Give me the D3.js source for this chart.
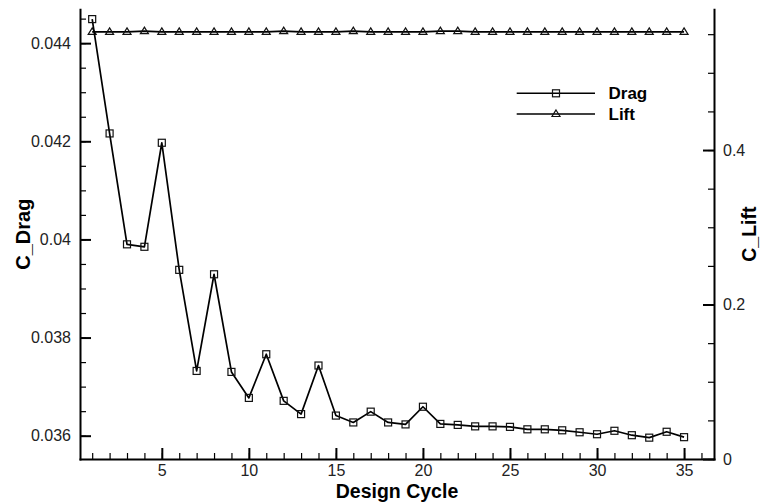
<!DOCTYPE html>
<html>
<head>
<meta charset="utf-8">
<script src="https://cdn.jsdelivr.net/npm/d3@7"></script>
<style>
  html, body { margin: 0; padding: 0; background: #fff; }
  svg { display: block; font-family: "Liberation Sans", Arial, Helvetica, sans-serif; }
  .axis .domain { stroke: #000; stroke-width: 2; stroke-linecap: square; }
  .axis .tick line { stroke: #000; stroke-width: 2; }
  .minor .tick line { stroke: #000; stroke-width: 1.2; }
  .minor .domain { display: none; }
  .axis text { font-size: 16px; fill: #222; }
</style>
</head>
<body>
<svg id="chart" width="761" height="502"></svg>
<script>
// ---------------------------------------------------------------------------
// Data
// ---------------------------------------------------------------------------

const cycles = d3.range(1, 36);

const dragValues = [
  0.04449, 0.04216, 0.03990, 0.03985, 0.04197, 0.03938, 0.03732, 0.03929,
  0.03730, 0.03677, 0.03766, 0.03671, 0.03644, 0.03743, 0.03641, 0.03627,
  0.03649, 0.03627, 0.03623, 0.03659, 0.03624, 0.03622, 0.03619, 0.03619,
  0.03618, 0.03613, 0.03613, 0.03611, 0.03607, 0.03603, 0.03610, 0.03601,
  0.03596, 0.03608, 0.03597
];

const liftValues = [
  0.553, 0.553, 0.553, 0.554, 0.553, 0.553, 0.553, 0.553, 0.553, 0.553,
  0.553, 0.554, 0.553, 0.553, 0.553, 0.554, 0.553, 0.553, 0.553, 0.553,
  0.554, 0.554, 0.553, 0.553, 0.553, 0.553, 0.553, 0.553, 0.553, 0.553,
  0.553, 0.553, 0.553, 0.553, 0.553
];

const xMajorTicks = [5, 10, 15, 20, 25, 30, 35];
const dragMajorTicks = [0.036, 0.038, 0.04, 0.042, 0.044];
const dragTickLabels = ["0.036", "0.038", "0.04", "0.042", "0.044"];
const liftMajorTicks = [0, 0.2, 0.4];
const liftTickLabels = ["0", "0.2", "0.4"];

const legendItems = ["Drag", "Lift"];

// ---------------------------------------------------------------------------
// Layout
// ---------------------------------------------------------------------------

const LEFT = 80, RIGHT = 714, TOP = 9.3, BOTTOM = 459;

const svg = d3.select("#chart");

const x = d3.scaleLinear().domain([0.3, 36.72]).range([LEFT, RIGHT]);
const yDrag = d3.scaleLinear().domain([0.035525, 0.04469]).range([BOTTOM, TOP]);
const yLift = d3.scaleLinear().domain([0, 0.5822]).range([BOTTOM, TOP]);

// minor ticks
const xMinor = d3.range(1, 37);
const dragMinor = d3.range(0, 19).map((i) => 0.0355 + i * 0.0005);
const liftMinor = d3.range(0, 12).map((i) => i * 0.05);

svg.append("g").attr("class", "axis minor")
  .attr("transform", `translate(0,${BOTTOM})`)
  .call(d3.axisBottom(x).tickValues(xMinor).tickSize(-6).tickSizeOuter(0).tickFormat(""));
svg.append("g").attr("class", "axis minor")
  .attr("transform", `translate(${LEFT},0)`)
  .call(d3.axisLeft(yDrag).tickValues(dragMinor.filter((v) => v >= yDrag.domain()[0])).tickSize(-6).tickSizeOuter(0).tickFormat(""));
svg.append("g").attr("class", "axis minor")
  .attr("transform", `translate(${RIGHT},0)`)
  .call(d3.axisRight(yLift).tickValues(liftMinor).tickSize(-6).tickSizeOuter(0).tickFormat(""));

// major axes
svg.append("g").attr("class", "axis")
  .attr("transform", `translate(0,${BOTTOM})`)
  .call(d3.axisBottom(x).tickValues(xMajorTicks).tickSize(-11).tickSizeOuter(0).tickPadding(6)
    .tickFormat(d3.format("d")));
svg.append("g").attr("class", "axis")
  .attr("transform", `translate(${LEFT},0)`)
  .call(d3.axisLeft(yDrag).tickValues(dragMajorTicks).tickSize(-11).tickSizeOuter(0).tickPadding(9)
    .tickFormat((d, i) => dragTickLabels[i]));
svg.append("g").attr("class", "axis")
  .attr("transform", `translate(${RIGHT},0)`)
  .call(d3.axisRight(yLift).tickValues(liftMajorTicks).tickSize(-11).tickSizeOuter(0).tickPadding(9)
    .tickFormat((d, i) => liftTickLabels[i]));

// axis titles
svg.append("text")
  .attr("transform", `translate(29.5,${(TOP + BOTTOM) / 2}) rotate(-90)`)
  .attr("text-anchor", "middle")
  .attr("font-size", 20).attr("font-weight", "bold")
  .text("C_Drag");

svg.append("text")
  .attr("transform", `translate(756,${(TOP + BOTTOM) / 2}) rotate(-90)`)
  .attr("text-anchor", "middle")
  .attr("font-size", 19.5).attr("font-weight", "bold")
  .text("C_Lift");

svg.append("text")
  .attr("x", (LEFT + RIGHT) / 2).attr("y", 498)
  .attr("text-anchor", "middle")
  .attr("font-size", 19.5).attr("font-weight", "bold")
  .text("Design Cycle");

// ---------------------------------------------------------------------------
// Series
// ---------------------------------------------------------------------------

const SQ = 7;
const triPath = "M0,-4L4,2.5L-4,2.5Z";

function square(g, cx, cy) {
  g.append("rect")
    .attr("x", cx - SQ / 2).attr("y", cy - SQ / 2)
    .attr("width", SQ).attr("height", SQ)
    .attr("fill", "none").attr("stroke", "#111").attr("stroke-width", 1.2);
}

function triangle(g, cx, cy) {
  g.append("path")
    .attr("d", triPath)
    .attr("transform", `translate(${cx},${cy})`)
    .attr("fill", "none").attr("stroke", "#111").attr("stroke-width", 1.2);
}

const plot = svg.append("g");

const liftLine = d3.line().x((d, i) => x(cycles[i])).y((d) => yLift(d));
plot.append("path")
  .attr("d", liftLine(liftValues))
  .attr("fill", "none").attr("stroke", "#000").attr("stroke-width", 1.7);
liftValues.forEach((v, i) => triangle(plot, x(cycles[i]), yLift(v)));

const dragLine = d3.line().x((d, i) => x(cycles[i])).y((d) => yDrag(d));
plot.append("path")
  .attr("d", dragLine(dragValues))
  .attr("fill", "none").attr("stroke", "#000").attr("stroke-width", 1.7)
  .attr("stroke-linejoin", "round");
dragValues.forEach((v, i) => square(plot, x(cycles[i]), yDrag(v)));

// ---------------------------------------------------------------------------
// Legend
// ---------------------------------------------------------------------------

const legend = svg.append("g");
legendItems.forEach((name, i) => {
  const ly = 93.3 + i * 20.7;
  legend.append("line")
    .attr("x1", 516.7).attr("x2", 595).attr("y1", ly).attr("y2", ly)
    .attr("stroke", "#000").attr("stroke-width", 1.6);
  if (i === 0) square(legend, 556, ly);
  else triangle(legend, 556, ly);
  legend.append("text")
    .attr("x", 608.5).attr("y", ly + 6)
    .attr("font-size", 17).attr("font-weight", "bold")
    .text(name);
});
</script>
</body>
</html>
